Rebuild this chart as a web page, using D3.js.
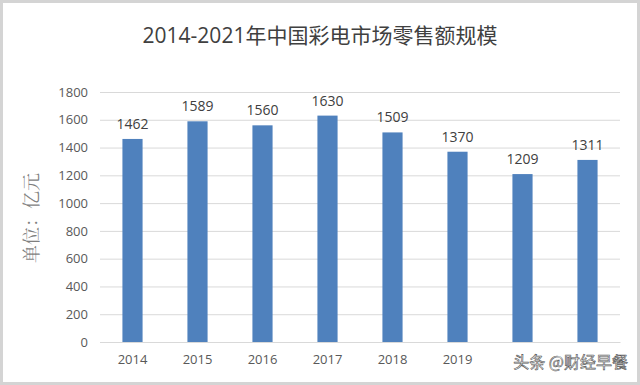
<!DOCTYPE html>
<html>
<head>
<meta charset="utf-8">
<script src="https://cdn.jsdelivr.net/npm/d3@7"></script>
<style>
  body { margin: 0; background: #fff; }
  svg { display: block; }
</style>
</head>
<body>
<div id="chart"></div>
<script>
// chart data
var years = ["2014", "2015", "2016", "2017", "2018", "2019", "2020", "2021"];
var sales = [1462, 1589, 1560, 1630, 1509, 1370, 1209, 1311];
var yTicks = [0, 200, 400, 600, 800, 1000, 1200, 1400, 1600, 1800];
// the 2020 and 2021 labels sit under the watermark in the source image
var shownYears = ["2014", "2015", "2016", "2017", "2018", "2019"];

var W = 640, H = 385;
var margin = { top: 92, right: 20, bottom: 43, left: 100 };
var width = W - margin.left - margin.right,
    height = H - margin.top - margin.bottom;

var svg = d3.select("#chart").append("svg")
    .attr("width", W)
    .attr("height", H);

svg.append("rect")
    .attr("x", 1.5).attr("y", 1.5)
    .attr("width", W - 3).attr("height", H - 3)
    .attr("fill", "#fff")
    .attr("stroke", "#d4d4d4")
    .attr("stroke-width", 3);

var g = svg.append("g")
    .attr("transform", "translate(" + margin.left + "," + margin.top + ")");

var x = d3.scaleBand().domain(years).range([0, width]).paddingInner(0.69).paddingOuter(0.345);
var y = d3.scaleLinear().domain([0, 1800]).range([height, 0]);

// gridlines + y labels
var yAxis = d3.axisLeft(y).tickValues(yTicks).tickFormat(d3.format("d")).tickSize(-width).tickPadding(12);
var yg = g.append("g").call(yAxis);
yg.select(".domain").remove();
yg.selectAll("line").attr("stroke", "#d9d9d9");
yg.selectAll("text")
    .attr("fill", "#595959")
    .style("font-family", "'Open Sans', 'Noto Sans', sans-serif")
    .style("font-size", "13px");

// x axis
var xAxis = d3.axisBottom(x).tickValues(shownYears).tickSize(0).tickPadding(13);
var xg = g.append("g").attr("transform", "translate(0," + height + ")").call(xAxis);
xg.select(".domain").attr("stroke", "#d9d9d9");
xg.selectAll("text")
    .attr("fill", "#595959")
    .style("font-family", "'Open Sans', 'Noto Sans', sans-serif")
    .style("font-size", "13px");

// bars
g.selectAll(".bar")
    .data(sales)
    .enter().append("rect")
    .attr("class", "bar")
    .attr("x", function (d, i) { return x(years[i]); })
    .attr("y", function (d) { return y(d); })
    .attr("width", x.bandwidth())
    .attr("height", function (d) { return height - y(d); })
    .attr("fill", "#4f81bd");

// value labels
g.selectAll(".val")
    .data(sales)
    .enter().append("text")
    .attr("class", "val")
    .attr("x", function (d, i) { return x(years[i]) + x.bandwidth() / 2; })
    .attr("y", function (d) { return y(d) - 10; })
    .attr("text-anchor", "middle")
    .attr("fill", "#404040")
    .style("font-family", "'Open Sans', 'Noto Sans', sans-serif")
    .style("font-size", "14px")
    .text(function (d) { return d; });

// title
svg.append("text")
    .attr("x", 320).attr("y", 43)
    .attr("text-anchor", "middle")
    .attr("fill", "#404040")
    .style("font-family", "'Open Sans', 'Noto Sans CJK SC', sans-serif")
    .style("font-size", "21px")
    .text("2014-2021年中国彩电市场零售额规模");

// y axis title
svg.append("text")
    .attr("transform", "translate(38,218) rotate(-90)")
    .attr("text-anchor", "middle")
    .attr("fill", "#7f7f7f")
    .style("font-family", "'Noto Serif CJK SC', 'Noto Sans CJK SC', serif")
    .style("font-size", "18px")
    .text("单位：亿元");

// watermark
svg.append("text")
    .attr("x", 628).attr("y", 368)
    .attr("text-anchor", "end")
    .attr("fill", "#fff")
    .attr("stroke", "#555")
    .attr("stroke-width", 0.6)
    .style("font-family", "'Noto Sans CJK SC', sans-serif")
    .style("font-size", "16px")
    .text("头条 @财经早餐");
</script>
</body>
</html>
